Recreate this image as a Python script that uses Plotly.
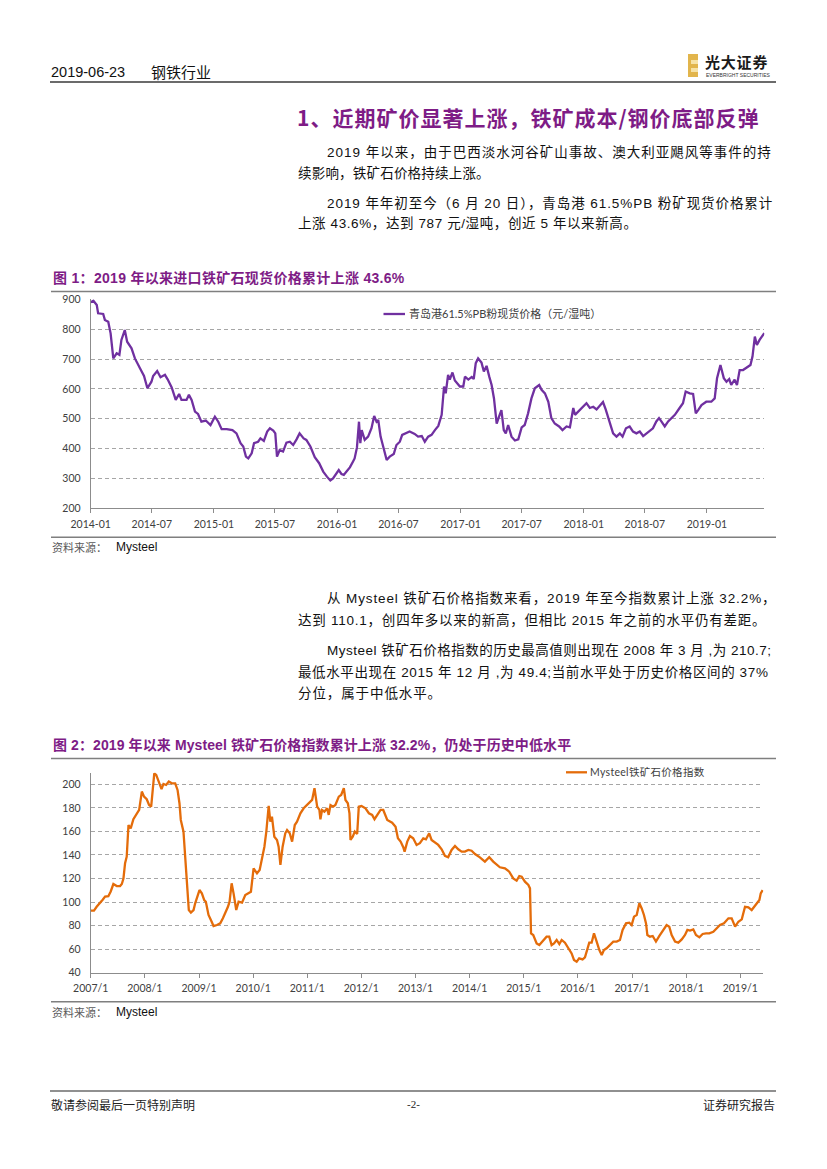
import plotly.graph_objects as go

# ---------------- data ----------------
# Figure 1: Qingdao port 61.5% PB fines spot price (CNY / wet ton)
c1_dates = [
    "2014-01-01", "2014-01-09", "2014-01-19", "2014-01-23", "2014-02-07", "2014-02-12", "2014-02-22",
    "2014-03-01", "2014-03-09", "2014-03-19", "2014-03-27", "2014-04-02", "2014-04-12", "2014-04-19",
    "2014-05-02", "2014-05-12", "2014-05-27", "2014-06-08", "2014-06-18", "2014-06-30", "2014-07-05",
    "2014-07-17", "2014-07-27", "2014-08-09", "2014-08-17", "2014-08-29", "2014-09-10", "2014-09-20",
    "2014-09-27", "2014-10-12", "2014-10-19", "2014-10-27", "2014-11-06", "2014-11-15", "2014-11-25",
    "2014-12-08", "2014-12-22",
    "2015-01-04", "2015-01-14", "2015-01-24", "2015-02-08", "2015-02-25", "2015-03-09", "2015-03-21",
    "2015-03-29", "2015-04-06", "2015-04-13", "2015-04-23", "2015-04-30", "2015-05-12", "2015-05-19",
    "2015-05-29", "2015-06-08", "2015-06-16", "2015-06-26", "2015-07-02", "2015-07-07", "2015-07-15",
    "2015-07-25", "2015-08-04", "2015-08-14", "2015-08-24", "2015-09-03", "2015-09-12", "2015-09-24",
    "2015-10-02", "2015-10-14", "2015-10-27", "2015-11-09", "2015-11-21", "2015-12-02", "2015-12-12",
    "2015-12-20", "2015-12-30",
    "2016-01-06", "2016-01-14", "2016-01-21", "2016-01-29", "2016-02-08", "2016-02-17", "2016-02-22",
    "2016-02-29", "2016-03-06", "2016-03-10", "2016-03-14", "2016-03-23", "2016-04-02", "2016-04-12",
    "2016-04-20", "2016-04-27", "2016-05-02", "2016-05-09", "2016-05-17", "2016-05-27", "2016-06-05",
    "2016-06-17", "2016-06-25", "2016-07-05", "2016-07-12", "2016-07-22", "2016-08-03", "2016-08-18",
    "2016-08-28",
    "2016-09-08", "2016-09-17", "2016-09-27", "2016-10-07", "2016-10-17", "2016-10-27", "2016-11-06",
    "2016-11-13", "2016-11-18", "2016-11-25", "2016-11-30", "2016-12-08", "2016-12-15", "2016-12-30",
    "2017-01-09", "2017-01-14", "2017-01-24", "2017-02-03", "2017-02-09", "2017-02-15", "2017-02-22",
    "2017-03-04", "2017-03-11", "2017-03-19", "2017-03-27", "2017-04-03", "2017-04-10", "2017-04-18",
    "2017-04-25", "2017-05-02", "2017-05-09", "2017-05-15", "2017-05-22", "2017-06-01", "2017-06-11",
    "2017-06-21", "2017-07-01", "2017-07-10", "2017-07-20", "2017-07-30", "2017-08-09", "2017-08-22",
    "2017-08-29", "2017-09-08", "2017-09-18", "2017-09-27", "2017-10-07", "2017-10-20", "2017-10-30",
    "2017-11-11", "2017-11-21", "2017-12-01", "2017-12-06", "2017-12-15", "2017-12-25",
    "2018-01-09", "2018-01-19", "2018-01-29", "2018-02-08", "2018-02-16", "2018-02-27", "2018-03-07",
    "2018-03-17", "2018-03-29", "2018-04-08", "2018-04-18", "2018-04-26", "2018-05-06", "2018-05-17",
    "2018-05-27", "2018-06-06", "2018-06-16", "2018-06-26", "2018-07-06", "2018-07-16", "2018-07-25",
    "2018-08-04", "2018-08-12", "2018-08-19", "2018-08-29", "2018-09-08", "2018-09-18", "2018-09-28",
    "2018-10-12", "2018-10-22", "2018-10-30", "2018-11-11", "2018-11-21", "2018-11-29", "2018-12-06",
    "2018-12-16", "2018-12-30",
    "2019-01-14", "2019-01-24", "2019-01-31", "2019-02-10", "2019-02-20", "2019-02-28", "2019-03-08",
    "2019-03-14", "2019-03-24", "2019-03-31", "2019-04-08", "2019-04-18", "2019-04-28", "2019-05-10",
    "2019-05-16", "2019-05-23", "2019-05-29", "2019-06-06", "2019-06-20",
]
c1_values = [
    890, 895, 881, 853, 851, 831, 825, 786, 702, 719, 714, 764, 797, 758, 736, 702, 669, 643, 602,
    624, 643, 660, 639, 647, 632, 605, 563, 583, 563, 563, 580, 563, 524, 516, 490, 494, 479,
    507, 490, 465, 465, 462, 451, 418, 407, 373, 367, 384, 418, 423, 434, 426, 457, 468, 460, 451,
    373, 395, 390, 420, 423, 412, 431, 451, 434, 429, 407, 371, 351, 323, 306, 293, 300,
    315, 328, 315, 312, 323, 337, 356, 367, 404, 490, 418, 462, 429, 440, 468, 509, 490, 496, 440,
    407, 362, 373, 382, 412, 423, 446, 451, 457, 449, 440,
    442, 423, 440, 446, 462, 476, 513, 608, 585, 647, 631, 655, 628, 608,
    608, 641, 631, 640, 633, 686, 702, 688, 658, 677, 641, 613, 568, 484, 507, 529, 462, 451, 479,
    440, 427, 431, 471, 479, 518, 568, 602, 613, 597, 585, 557, 502, 484, 474, 462, 474, 471, 536,
    513, 524, 536,
    552, 536, 540, 531, 543, 556, 531, 491, 451, 440, 451, 440, 468, 474, 457, 451, 457, 442, 451,
    457, 468, 491, 502, 491, 474, 491, 502, 513, 536, 552, 591, 585, 583, 518, 529, 546, 557,
    557, 568, 636, 680, 636, 624, 633, 613, 631, 613, 663, 663, 672, 680, 708, 775, 747, 764, 787,
]
c1_ticks = ["2014-01-01", "2014-07-01", "2015-01-01", "2015-07-01", "2016-01-01", "2016-07-01",
            "2017-01-01", "2017-07-01", "2018-01-01", "2018-07-01", "2019-01-01"]
c1_ticktext = ["2014-01", "2014-07", "2015-01", "2015-07", "2016-01", "2016-07",
               "2017-01", "2017-07", "2018-01", "2018-07", "2019-01"]
c1_name = "青岛港61.5%PB粉现货价格（元/湿吨）"

# Figure 2: Mysteel iron ore price index
c2_dates = [
    "2007-01-01", "2007-01-23", "2007-02-10", "2007-03-05", "2007-03-23", "2007-04-08", "2007-04-30",
    "2007-05-16", "2007-06-03", "2007-06-26", "2007-07-18", "2007-07-30", "2007-08-10", "2007-08-21",
    "2007-09-01", "2007-09-13", "2007-09-28", "2007-10-16", "2007-11-08", "2007-11-24", "2007-12-12",
    "2007-12-27",
    "2008-01-14", "2008-01-30", "2008-02-13", "2008-03-05", "2008-03-18", "2008-04-05", "2008-04-23",
    "2008-05-06", "2008-05-24", "2008-06-11", "2008-07-01", "2008-07-24", "2008-08-09", "2008-08-22",
    "2008-08-31", "2008-09-18", "2008-09-30", "2008-10-11", "2008-10-24", "2008-11-07", "2008-11-25",
    "2008-12-06", "2008-12-22",
    "2009-01-04", "2009-01-20", "2009-02-05", "2009-02-16", "2009-03-06", "2009-03-22", "2009-04-09",
    "2009-05-02", "2009-05-24", "2009-06-11", "2009-06-27", "2009-07-15", "2009-07-26", "2009-08-09",
    "2009-08-22", "2009-09-09", "2009-09-25", "2009-10-18", "2009-11-09", "2009-12-02", "2009-12-17",
    "2010-01-04", "2010-01-27", "2010-02-14", "2010-03-02", "2010-03-18", "2010-03-31", "2010-04-16",
    "2010-04-27", "2010-05-08", "2010-05-24", "2010-06-11", "2010-06-22", "2010-07-04", "2010-07-19",
    "2010-08-06", "2010-08-18", "2010-09-05", "2010-09-21", "2010-10-09", "2010-10-24", "2010-11-16",
    "2010-12-08", "2010-12-31",
    "2011-01-18", "2011-02-03", "2011-02-19", "2011-03-09", "2011-03-24", "2011-03-31", "2011-04-11",
    "2011-04-27", "2011-05-15", "2011-05-26", "2011-06-07", "2011-06-25", "2011-07-10", "2011-08-02",
    "2011-08-18", "2011-09-05", "2011-09-16", "2011-10-02", "2011-10-13", "2011-10-20", "2011-11-04",
    "2011-11-18", "2011-12-04", "2011-12-15",
    "2012-01-02", "2012-01-29", "2012-02-21", "2012-03-14", "2012-03-30", "2012-04-17", "2012-05-10",
    "2012-05-28", "2012-06-24", "2012-07-27", "2012-08-19", "2012-09-04", "2012-09-22", "2012-10-10",
    "2012-10-19", "2012-11-06", "2012-11-24", "2012-12-16",
    "2013-01-08", "2013-01-30", "2013-02-22", "2013-03-12", "2013-04-03", "2013-04-19", "2013-05-11",
    "2013-06-03", "2013-06-26", "2013-07-18", "2013-08-09", "2013-09-01", "2013-09-24", "2013-10-16",
    "2013-11-08", "2013-11-30", "2013-12-23",
    "2014-01-14", "2014-02-06", "2014-03-11", "2014-04-14", "2014-05-13", "2014-06-09", "2014-07-02",
    "2014-07-24", "2014-08-27", "2014-09-25", "2014-10-22", "2014-11-14", "2014-12-02", "2014-12-18",
    "2015-01-09", "2015-02-01", "2015-02-12", "2015-02-19", "2015-03-06", "2015-03-29", "2015-04-16",
    "2015-05-08", "2015-06-04", "2015-06-22", "2015-07-08", "2015-07-24", "2015-08-11", "2015-08-29",
    "2015-09-14", "2015-10-06", "2015-10-29", "2015-11-20", "2015-12-06", "2015-12-24",
    "2016-01-10", "2016-02-02", "2016-02-18", "2016-03-05", "2016-03-18", "2016-04-03", "2016-04-19",
    "2016-05-07", "2016-05-25", "2016-06-10", "2016-06-25", "2016-07-13", "2016-08-05", "2016-08-27",
    "2016-09-19", "2016-10-11", "2016-10-29", "2016-11-21", "2016-12-13", "2016-12-29",
    "2017-01-14", "2017-02-01", "2017-02-19", "2017-03-07", "2017-03-22", "2017-04-05", "2017-04-14",
    "2017-05-02", "2017-05-20", "2017-06-11", "2017-07-04", "2017-07-31", "2017-08-22", "2017-09-09",
    "2017-09-25", "2017-10-18", "2017-11-09", "2017-12-02", "2017-12-24",
    "2018-01-09", "2018-01-27", "2018-02-18", "2018-03-08", "2018-03-31", "2018-04-22", "2018-05-15",
    "2018-06-06", "2018-07-03", "2018-07-26", "2018-08-17", "2018-09-13", "2018-10-13", "2018-11-04",
    "2018-11-27", "2018-12-19",
    "2019-01-11", "2019-02-02", "2019-02-25", "2019-03-19", "2019-04-04", "2019-04-26", "2019-05-10",
    "2019-05-19", "2019-06-01",
]
c2_values = [
    92.7, 92.7, 96.0, 99.0, 102.0, 104.6, 105.0, 109.0, 115.3, 113.6, 113.6, 115.3, 120.0, 133.0,
    138.5, 165.4, 162.6, 170.3, 175.4, 178.2, 193.8, 189.5,
    187.3, 182.4, 181.0, 209.3, 207.9, 201.4, 195.8, 200.3, 199.4, 202.3, 200.8, 200.8, 195.2, 183.9,
    169.7, 159.8, 135.7, 113.0, 93.2, 91.0, 93.2, 98.9, 106.0,
    110.2, 107.4, 101.7, 100.3, 89.0, 84.7, 79.6, 80.5, 81.9, 86.2, 90.4, 96.0, 100.3, 115.9,
    107.4, 93.2, 100.3, 99.5, 106.0, 107.4, 108.8,
    128.6, 124.4, 127.2, 138.5, 147.0, 159.8, 181.6, 168.3, 172.5, 155.5, 152.7, 147.0, 131.5, 147.0,
    158.4, 161.2, 158.4, 151.3, 165.4, 168.3, 175.4, 179.6, 182.4,
    184.4, 186.7, 196.6, 181.0, 178.2, 170.3, 178.2, 176.8, 179.6, 174.0, 182.4, 181.0, 182.4, 189.5,
    190.9, 196.6, 186.7, 183.9, 175.4, 152.7, 155.5, 159.8, 157.8, 181.0,
    181.6, 179.6, 175.4, 174.0, 170.3, 174.0, 178.2, 178.2, 169.7, 167.4, 164.0, 154.1, 151.3, 146.5,
    142.8, 151.3, 156.1, 154.1,
    148.5, 150.0, 154.1, 153.3, 158.4, 152.7, 150.4, 148.5, 144.8, 139.2, 138.0, 144.2, 147.6, 144.8,
    142.8, 142.8, 144.2,
    143.6, 140.8, 138.0, 134.3, 138.0, 134.3, 131.5, 129.5, 128.6, 125.8, 120.1, 118.2, 122.1, 121.5,
    117.3, 114.5, 111.6, 73.4, 72.0, 64.9, 63.5, 66.4, 70.6, 70.6, 63.5, 64.9, 67.8, 64.3,
    67.8, 65.5, 60.7, 56.4, 50.8, 49.4,
    52.2, 51.3, 53.0, 59.2, 65.5, 65.5, 73.4, 66.4, 59.2, 55.0, 59.2, 60.7, 63.5, 66.4,
    66.4, 67.8, 76.3, 81.9, 82.5, 80.5,
    87.6, 89.0, 98.9, 94.6, 89.0, 81.9, 72.0, 70.6, 71.2, 66.4, 71.2, 76.3, 80.5, 79.1,
    72.0, 66.4, 65.5, 68.3, 72.0,
    76.3, 75.7, 76.8, 72.0, 70.0, 72.9, 73.4, 73.4, 74.8, 77.7, 80.5, 81.9, 86.2, 86.2, 79.1, 83.3,
    85.3, 96.0, 95.5, 93.2, 96.0, 98.9, 101.7, 107.4, 110.1,
]
c2_ticks = ["2007-01-01", "2008-01-01", "2009-01-01", "2010-01-01", "2011-01-01", "2012-01-01",
            "2013-01-01", "2014-01-01", "2015-01-01", "2016-01-01", "2017-01-01", "2018-01-01",
            "2019-01-01"]
c2_ticktext = ["2007/1", "2008/1", "2009/1", "2010/1", "2011/1", "2012/1", "2013/1", "2014/1",
               "2015/1", "2016/1", "2017/1", "2018/1", "2019/1"]
c2_name = "Mysteel铁矿石价格指数"

# page text
header_date = "2019-06-23"
header_sector = "钢铁行业"
logo_cn = "光大证券"
logo_en = "EVERBRIGHT SECURITIES"
section_title = "1、近期矿价显著上涨，铁矿成本/钢价底部反弹"
sec1_lines = [
    "2019 年以来，由于巴西淡水河谷矿山事故、澳大利亚飓风等事件的持",
    "续影响，铁矿石价格持续上涨。",
    "2019 年年初至今（6 月 20 日），青岛港 61.5%PB 粉矿现货价格累计",
    "上涨 43.6%，达到 787 元/湿吨，创近 5 年以来新高。",
]
sec2_lines = [
    "从 Mysteel 铁矿石价格指数来看，2019 年至今指数累计上涨 32.2%，",
    "达到 110.1，创四年多以来的新高，但相比 2015 年之前的水平仍有差距。",
    "Mysteel 铁矿石价格指数的历史最高值则出现在 2008 年 3 月 ,为 210.7;",
    "最低水平出现在 2015 年 12 月 ,为 49.4;当前水平处于历史价格区间的 37%",
    "分位，属于中低水平。",
]
fig1_title = "图 1：2019 年以来进口铁矿石现货价格累计上涨 43.6%"
fig2_title = "图 2：2019 年以来 Mysteel 铁矿石价格指数累计上涨 32.2%，仍处于历史中低水平"
source_label = "资料来源："
source_name = "Mysteel"
footer_left = "敬请参阅最后一页特别声明"
footer_mid = "-2-"
footer_right = "证券研究报告"

# ---------------- layout helpers ----------------
W, H = 827, 1169


def px(x):
    return x / W


def py(y):
    return 1 - y / H


PURPLE_LINE = "#7030A0"
ORANGE_LINE = "#E46C0A"
TITLE_PURPLE = "#7E1C86"
AX = "#8C8C8C"
GRID = "#A6A6A6"
TICKFONT = dict(family="Lato, Noto Sans CJK SC, sans-serif", size=10.5, color="#404040")
BODY_FONT = "Liberation Sans, Noto Sans CJK SC, sans-serif"
CJK_FONT = "Noto Sans CJK SC, sans-serif"

fig = go.Figure()
fig.add_trace(go.Scatter(x=c1_dates, y=c1_values, mode="lines", name=c1_name,
                         line=dict(color=PURPLE_LINE, width=2.3), xaxis="x", yaxis="y",
                         showlegend=False))
fig.add_trace(go.Scatter(x=c2_dates, y=c2_values, mode="lines", name=c2_name,
                         line=dict(color=ORANGE_LINE, width=2.3), xaxis="x2", yaxis="y2",
                         showlegend=False))

common_x = dict(type="date", showline=True, linecolor=AX, linewidth=1, ticks="outside",
                ticklen=4, tickcolor=AX, showgrid=False, zeroline=False, tickfont=TICKFONT,
                fixedrange=True, ticklabelstandoff=2, automargin=False)
common_y = dict(showline=True, linecolor=AX, linewidth=1, ticks="", showgrid=True,
                gridcolor=GRID, griddash="4px,3px", gridwidth=1, zeroline=False,
                tickfont=TICKFONT, fixedrange=True, ticklabelstandoff=7, automargin=False)

fig.update_layout(
    width=W, height=H, margin=dict(l=0, r=0, t=0, b=0, pad=0, autoexpand=False),
    paper_bgcolor="white", plot_bgcolor="white", showlegend=False,
    xaxis=dict(common_x, domain=[px(90.7), px(764.3)], range=["2014-01-01", "2019-06-20"],
               tickmode="array", tickvals=c1_ticks, ticktext=c1_ticktext, anchor="y"),
    yaxis=dict(common_y, domain=[py(508.3), py(299.3)], range=[200, 900], dtick=100,
               tick0=200, anchor="x"),
    xaxis2=dict(common_x, domain=[px(90.7), px(763.4)], range=["2007-01-01", "2019-06-06"],
                tickmode="array", tickvals=c2_ticks, ticktext=c2_ticktext, anchor="y2"),
    yaxis2=dict(common_y, domain=[py(972.7), py(772.5)], range=[40, 210], tickmode="array",
                tickvals=[40, 60, 80, 100, 120, 140, 160, 180, 200], anchor="x2"),
)

shapes = []


def hline(x0, x1, y, color, width):
    shapes.append(dict(type="line", xref="paper", yref="paper", x0=px(x0), x1=px(x1),
                       y0=py(y), y1=py(y), line=dict(color=color, width=width)))


hline(50, 776, 82, "#3a3a3a", 1.5)       # header rule
hline(51, 776, 291.5, "#7f7f7f", 1.5)    # fig 1 top
hline(51, 776, 537.3, "#7f7f7f", 1.5)    # fig 1 bottom
hline(51, 776, 758.5, "#7f7f7f", 1.5)    # fig 2 top
hline(51, 776, 1001.7, "#7f7f7f", 1.5)   # fig 2 bottom
hline(50, 776, 1091, "#222222", 1.2)     # footer rule
hline(383.5, 405, 314, PURPLE_LINE, 2.3)  # legend sample 1
hline(566, 587, 772.3, ORANGE_LINE, 2.3)  # legend sample 2

# logo mark
shapes.append(dict(type="rect", xref="paper", yref="paper", x0=px(688), x1=px(698),
                   y0=py(77), y1=py(54), line=dict(width=0), fillcolor="#E2B54C"))
shapes.append(dict(type="rect", xref="paper", yref="paper", x0=px(691), x1=px(698),
                   y0=py(64), y1=py(60), line=dict(width=0), fillcolor="#F6E2A6"))
shapes.append(dict(type="rect", xref="paper", yref="paper", x0=px(691), x1=px(698),
                   y0=py(72), y1=py(68), line=dict(width=0), fillcolor="#F6E2A6"))
fig.update_layout(shapes=shapes)

ann = []


def text(x, y, s, size, color="#111111", family=BODY_FONT, anchor="left", ls=None, bold=False):
    t = s
    if ls:
        t = f'<span style="letter-spacing:{ls}px">{t}</span>'
    if bold:
        t = f"<b>{t}</b>"
    ann.append(dict(x=px(x), y=py(y), xref="paper", yref="paper", text=t, showarrow=False,
                    xanchor=anchor, yanchor="middle", borderpad=0,
                    font=dict(family=family, size=size, color=color)))


# header
text(50, 72, header_date, 14.5, "#111111", "Liberation Sans Narrow, Liberation Sans, sans-serif")
text(150, 72, header_sector, 15, "#111111", CJK_FONT)
text(704, 61, logo_cn, 15, "#1a1a1a", CJK_FONT, ls=0.8, bold=True)
text(705, 75, logo_en, 5, "#333333", "Liberation Sans, sans-serif")

# section heading + body
text(296, 117, section_title, 21, TITLE_PURPLE, CJK_FONT, ls=1.0, bold=True)
sec1_pos = [(325.5, 152, 1.0), (297, 173, 0.2), (325.5, 203, 0.93), (297, 223, 0.6)]
for (x, y, ls), s in zip(sec1_pos, sec1_lines):
    text(x, y, s, 13.5, "#111111", BODY_FONT, ls=ls)
sec2_pos = [(326, 598.3, 0.88), (297, 620, 0.76), (326, 650, 0.5), (297, 671.7, 0.62),
            (297, 693.3, 0.9)]
for (x, y, ls), s in zip(sec2_pos, sec2_lines):
    text(x, y, s, 13.5, "#111111", BODY_FONT, ls=ls)

# figure titles
text(52, 278, fig1_title, 14, TITLE_PURPLE, BODY_FONT, ls=0.3, bold=True)
text(52, 745, fig2_title, 14, TITLE_PURPLE, BODY_FONT, ls=0.1, bold=True)

# legends
text(408, 314, c1_name, 11, "#404040", "Lato, Noto Sans CJK SC, sans-serif")
text(589, 772.3, c2_name, 10.5, "#404040", "Lato, Noto Sans CJK SC, sans-serif", ls=0.3)

# sources
for y in (547, 1012):
    text(51, y, source_label, 11, "#595959", CJK_FONT)
    text(115, y, source_name, 12, "#111111", "Liberation Sans, sans-serif")

# footer
text(50, 1104, footer_left, 12, "#222222", CJK_FONT)
text(413, 1104, footer_mid, 11, "#222222", "Liberation Serif, serif", anchor="center")
text(776, 1104, footer_right, 12, "#222222", CJK_FONT, anchor="right")

fig.update_layout(annotations=ann)

fig.write_html("out.html", config={"displayModeBar": False},
               post_script="document.body.style.margin='0';document.body.style.overflow='hidden';")
